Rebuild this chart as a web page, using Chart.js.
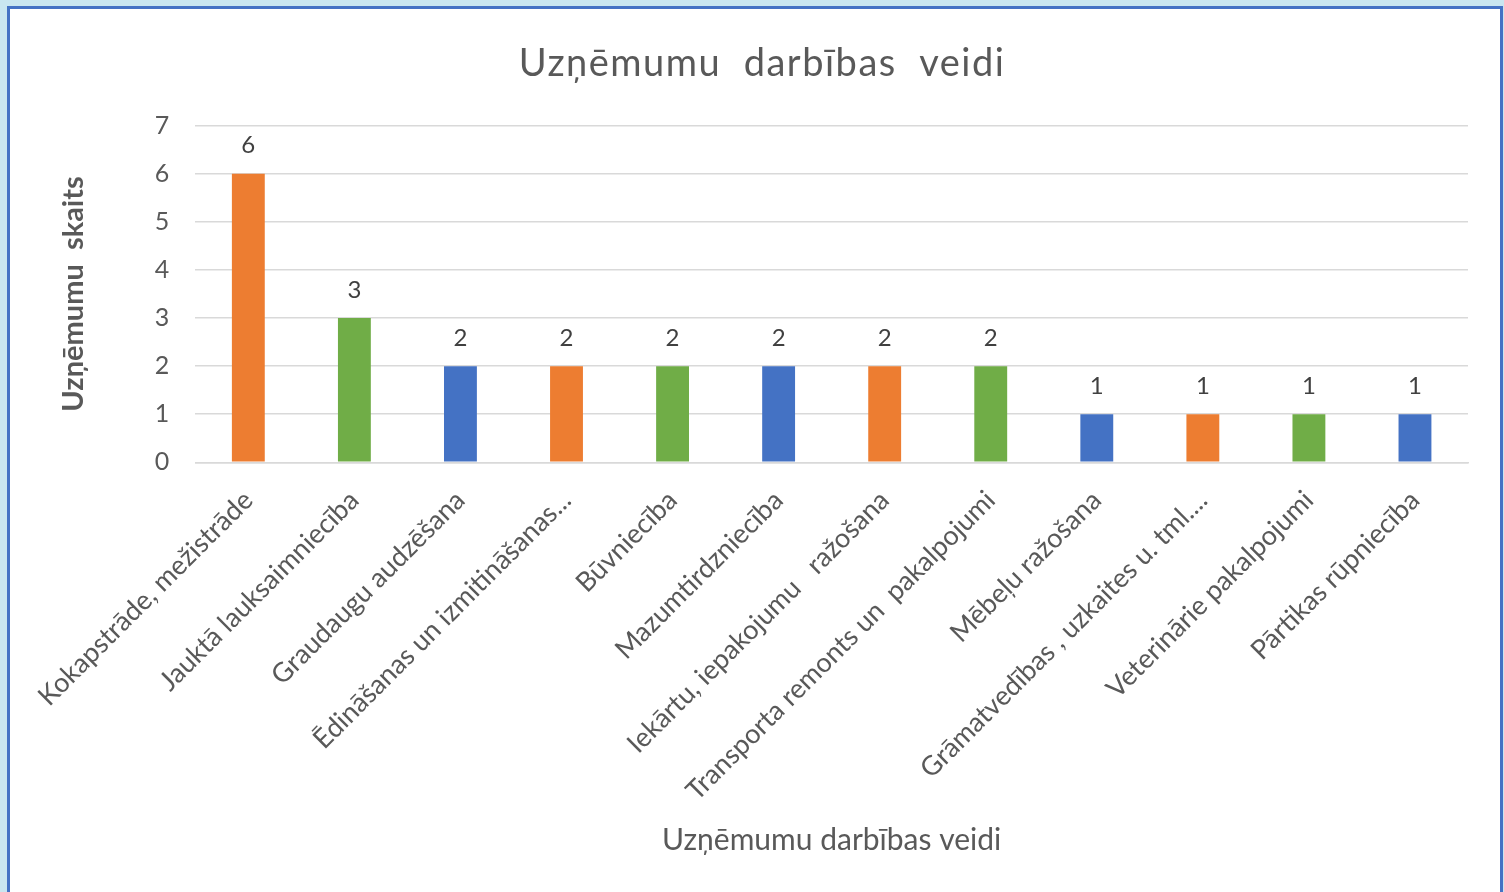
<!DOCTYPE html>
<html>
<head>
<meta charset="utf-8">
<script src="https://cdn.jsdelivr.net/npm/chart.js@4.4.0/dist/chart.umd.min.js"></script>
<style>
  html, body { margin: 0; padding: 0; background: #c9e6f0; width: 1504px; height: 892px; overflow: hidden; }
  #frame { position: absolute; left: 7px; top: 6px; width: 1490px; height: 900px; background: #fff;
           border-left: 3px solid #4472c4; border-top: 3px solid #4472c4; border-right: 3px solid #4472c4; }
  #wrap { position: absolute; left: 0; top: 0; width: 1490px; height: 883px; }
</style>
</head>
<body>
<div id="frame"><div id="wrap"><canvas id="c"></canvas></div></div>
<script>
const categories = [
  "Kokapstrāde, mežistrāde",
  "Jauktā lauksaimniecība",
  "Graudaugu audzēšana",
  "Ēdināšanas un izmitināšanas...",
  "Būvniecība",
  "Mazumtirdzniecība",
  "Iekārtu, iepakojumu   ražošana",
  "Transporta remonts un  pakalpojumi",
  "Mēbeļu ražošana",
  "Grāmatvedības , uzkaites u. tml....",
  "Veterinārie pakalpojumi",
  "Pārtikas rūpniecība"
];
const counts = [6, 3, 2, 2, 2, 2, 2, 2, 1, 1, 1, 1];
const yTicks = [0, 1, 2, 3, 4, 5, 6, 7];
const chartTitle = "Uzņēmumu  darbības  veidi";
const yTitle = "Uzņēmumu  skaits";
const xTitle = "Uzņēmumu darbības veidi";

const palette = ["#ed7d31", "#70ad47", "#4472c4"];
const FONT = "Lato, 'Open Sans', sans-serif";

const valueLabels = {
  id: "valueLabels",
  afterDatasetsDraw(chart) {
    const ctx = chart.ctx;
    ctx.save();
    ctx.font = "24px " + FONT;
    ctx.fillStyle = "#404040";
    ctx.textAlign = "center";
    ctx.textBaseline = "bottom";
    chart.data.datasets.forEach((ds, di) => {
      chart.getDatasetMeta(di).data.forEach((el, i) => {
        ctx.fillText(String(ds.data[i]), el.x, el.y - 16);
      });
    });
    ctx.restore();
  }
};

const chart = new Chart(document.getElementById("c"), {
  type: "bar",
  data: {
    labels: categories,
    datasets: [{
      data: counts,
      backgroundColor: counts.map((_, i) => palette[i % 3]),
      categoryPercentage: 1,
      barPercentage: 0.31
    }]
  },
  options: {
    responsive: true,
    maintainAspectRatio: false,
    animation: false,
    layout: { padding: { left: 46, right: 32, top: 32, bottom: 34 } },
    plugins: {
      legend: { display: false },
      tooltip: { enabled: false },
      title: {
        display: true, text: chartTitle, color: "#595959",
        font: { family: FONT, size: 38, weight: "normal" }, padding: { top: 0, bottom: 39 }
      }
    },
    scales: {
      y: {
        min: 0, max: 7,
        afterBuildTicks: (axis) => { axis.ticks = yTicks.map(v => ({ value: v })); },
        grid: { color: "#d9d9d9", lineWidth: 1.5, drawTicks: false },
        border: { display: false },
        ticks: { color: "#595959", font: { family: FONT, size: 25 }, padding: 26 },
        title: { display: true, text: yTitle, color: "#595959", font: { family: FONT, size: 29, weight: "bold" }, padding: { top: 0, bottom: 38 } }
      },
      x: {
        grid: { display: false, drawTicks: false },
        border: { display: true, color: "#d9d9d9", width: 1.5 },
        ticks: { color: "#595959", font: { family: FONT, size: 27 }, minRotation: 45, maxRotation: 45, autoSkip: false, padding: 22 },
        title: { display: true, text: xTitle, color: "#595959", font: { family: FONT, size: 30 }, padding: { top: -7, bottom: 0 } }
      }
    }
  },
  plugins: [valueLabels]
});

// slightly letter-spaced chart title, as in the original
if (chart.titleBlock) {
  const origDraw = chart.titleBlock.draw.bind(chart.titleBlock);
  chart.titleBlock.draw = function () {
    const ctx = chart.ctx;
    const prev = ctx.letterSpacing;
    ctx.letterSpacing = "1.5px";
    origDraw();
    ctx.letterSpacing = prev || "0px";
  };
  chart.draw();
}
</script>
</body>
</html>
